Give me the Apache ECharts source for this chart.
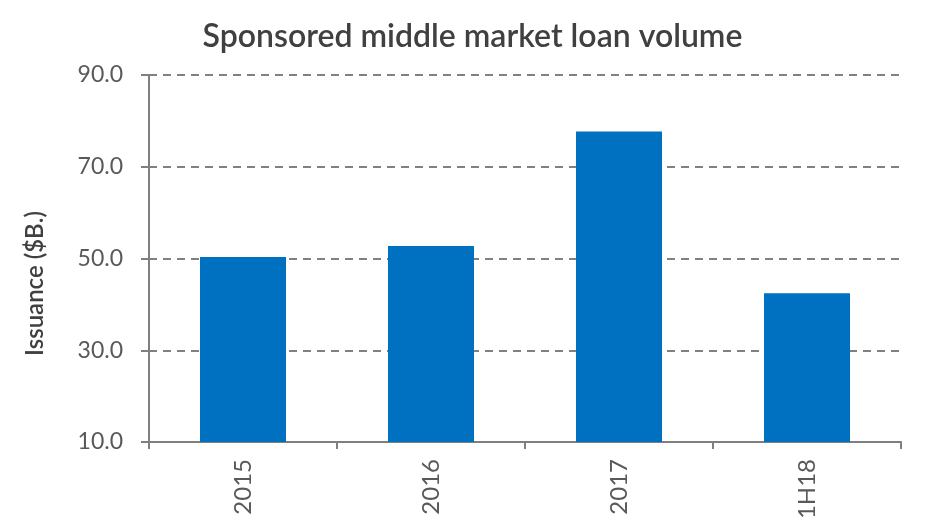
<!DOCTYPE html>
<html>
<head>
<meta charset="utf-8">
<script src="https://cdn.jsdelivr.net/npm/echarts@6/dist/echarts.min.js"></script>
<style>
  html, body { margin: 0; padding: 0; background: #fff; }
  #main { width: 945px; height: 525px; }
</style>
</head>
<body>
<div id="main"></div>
<script>
// 数据
var categories = ['2015', '2016', '2017', '1H18'];
var volumes = [50.3, 52.7, 77.7, 42.4];
var yTicks = { min: 10, max: 90, step: 20 };

var myChart = echarts.init(document.getElementById('main'));

var option = {
    title: {
        text: 'Sponsored middle market loan volume',
        left: 'center',
        top: 16,
        textStyle: {
            fontFamily: 'Lato',
            fontSize: 32,
            fontWeight: 600,
            color: '#404040'
        }
    },
    grid: {
        left: 149,
        right: 44,
        top: 75,
        bottom: 83,
        containLabel: false
    },
    xAxis: {
        type: 'category',
        data: categories,
        boundaryGap: true,
        axisLine: { lineStyle: { color: '#7f7f7f', width: 2 } },
        axisTick: { show: true, length: 7, alignWithLabel: false, lineStyle: { color: '#7f7f7f', width: 2 } },
        axisLabel: {
            rotate: 90,
            margin: 17,
            color: '#595959',
            fontFamily: 'Lato',
            fontSize: 24
        }
    },
    yAxis: {
        type: 'value',
        min: yTicks.min,
        max: yTicks.max,
        interval: yTicks.step,
        name: 'Issuance ($B.)',
        nameLocation: 'middle',
        nameGap: 102,
        nameRotate: 90,
        nameTextStyle: {
            fontFamily: 'Lato',
            fontSize: 24,
            fontWeight: 600,
            color: '#404040',
            padding: [0, 50, 0, 0]
        },
        axisLine: { show: true, lineStyle: { color: '#7f7f7f', width: 2 } },
        axisTick: { show: true, length: 8, lineStyle: { color: '#7f7f7f', width: 2 } },
        axisLabel: {
            margin: 26,
            color: '#595959',
            fontFamily: 'Lato',
            fontSize: 23,
            formatter: function (v) { return v.toFixed(1); }
        },
        splitLine: {
            show: true,
            lineStyle: { color: '#808080', width: 2, type: [8, 6] }
        }
    },
    series: [{
        type: 'bar',
        data: volumes,
        barWidth: 86,
        itemStyle: { color: '#0070c0' },
        z: 3
    }],
    animation: false
};

myChart.setOption(option);
</script>
</body>
</html>
